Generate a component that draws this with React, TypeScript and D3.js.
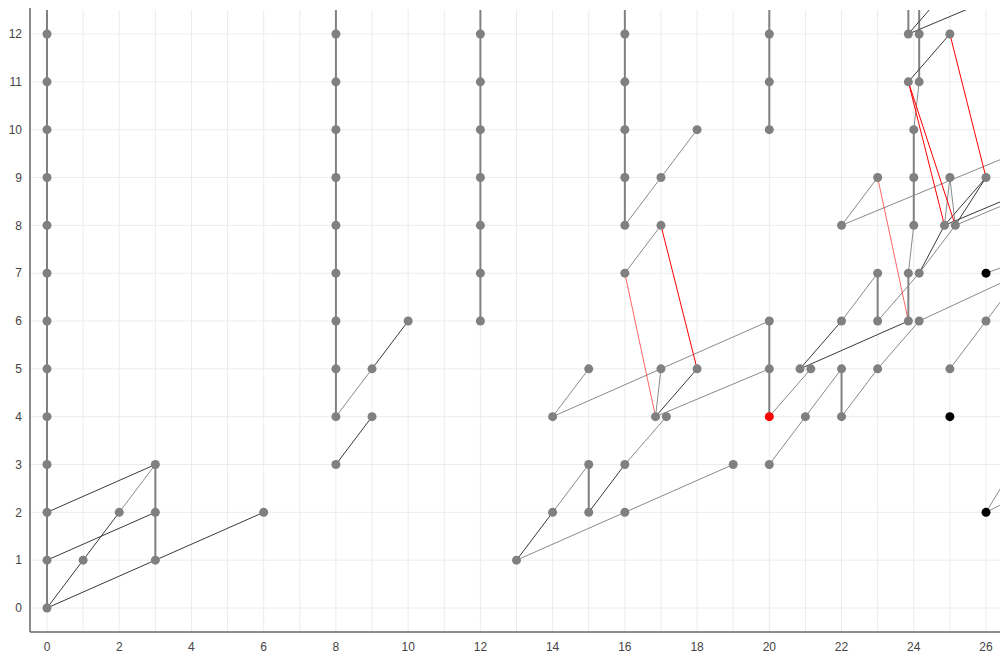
import React from "react";
import * as d3 from "d3";

// ---- data ----
const xTicks = [0, 2, 4, 6, 8, 10, 12, 14, 16, 18, 20, 22, 24, 26];
const yTicks = [0, 1, 2, 3, 4, 5, 6, 7, 8, 9, 10, 11, 12];
const xGrid = [0, 1, 2, 3, 4, 5, 6, 7, 8, 9, 10, 11, 12, 13, 14, 15, 16, 17, 18, 19, 20, 21, 22, 23, 24, 25, 26];

// nodes: [x, y, status]
const nodes: [number, number, string][] = [
  [0, 0, "n"], [0, 1, "n"], [0, 2, "n"], [0, 3, "n"], [0, 4, "n"], [0, 5, "n"], [0, 6, "n"],
  [0, 7, "n"], [0, 8, "n"], [0, 9, "n"], [0, 10, "n"], [0, 11, "n"], [0, 12, "n"],
  [1, 1, "n"], [2, 2, "n"], [3, 1, "n"], [3, 2, "n"], [3, 3, "n"], [6, 2, "n"],
  [8, 3, "n"], [8, 4, "n"], [8, 5, "n"], [8, 6, "n"], [8, 7, "n"], [8, 8, "n"], [8, 9, "n"],
  [8, 10, "n"], [8, 11, "n"], [8, 12, "n"],
  [9, 4, "n"], [9, 5, "n"], [10, 6, "n"],
  [12, 6, "n"], [12, 7, "n"], [12, 8, "n"], [12, 9, "n"], [12, 10, "n"], [12, 11, "n"], [12, 12, "n"],
  [13, 1, "n"], [14, 2, "n"], [15, 2, "n"], [15, 3, "n"], [16, 2, "n"], [16, 3, "n"], [19, 3, "n"],
  [14, 4, "n"], [15, 5, "n"], [16.85, 4, "n"], [17.15, 4, "n"], [17, 5, "n"], [18, 5, "n"],
  [20, 5, "n"], [20, 6, "n"], [20, 4, "flag"], [20, 3, "n"],
  [16, 7, "n"], [16, 8, "n"], [16, 9, "n"], [16, 10, "n"], [16, 11, "n"], [16, 12, "n"],
  [17, 8, "n"], [17, 9, "n"], [18, 10, "n"],
  [20, 10, "n"], [20, 11, "n"], [20, 12, "n"],
  [21, 4, "n"], [20.85, 5, "n"], [21.15, 5, "n"], [22, 4, "n"], [22, 5, "n"], [23, 5, "n"],
  [22, 6, "n"], [23, 6, "n"], [23, 7, "n"], [22, 8, "n"], [23, 9, "n"],
  [23.85, 6, "n"], [24.15, 6, "n"], [23.85, 7, "n"], [24.15, 7, "n"], [24, 8, "n"], [24, 9, "n"],
  [24, 10, "n"], [24.85, 8, "n"], [25.15, 8, "n"], [25, 9, "n"], [26, 9, "n"],
  [23.85, 11, "n"], [24.15, 11, "n"], [23.85, 12, "n"], [24.15, 12, "n"], [25, 12, "n"],
  [25, 4, "head"], [25, 5, "n"], [26, 6, "n"], [26, 7, "head"], [26, 2, "head"],
];

// vertical chains: [x, fromY, toY]
const chains: [number, number, number][] = [
  [0, 0, 13], [8, 4, 13], [12, 6, 13], [16, 8, 13], [20, 10, 13], [20, 4, 6],
  [3, 1, 3], [15, 2, 3], [22, 4, 5], [23, 6, 7], [23.85, 6, 7], [24, 8, 10],
  [24.15, 11, 13], [23.85, 12, 13],
];

// edges: [x1, y1, x2, y2, kind]  kind: strong | weak | conflict | conflictSoft
const edges: [number, number, number, number, string][] = [
  [0, 0, 1, 1, "strong"], [1, 1, 2, 2, "strong"], [2, 2, 3, 3, "weak"],
  [0, 2, 3, 3, "strong"], [0, 1, 3, 2, "strong"], [0, 0, 3, 1, "strong"], [3, 1, 6, 2, "strong"],
  [8, 3, 9, 4, "strong"], [8, 4, 9, 5, "weak"], [9, 5, 10, 6, "strong"],
  [13, 1, 14, 2, "strong"], [14, 2, 15, 3, "weak"], [15, 2, 16, 3, "strong"],
  [16, 3, 17.15, 4, "weak"], [13, 1, 16, 2, "weak"], [16, 2, 19, 3, "weak"],
  [14, 4, 15, 5, "weak"], [14, 4, 20, 6, "weak"],
  [16.85, 4, 17, 5, "weak"], [16.85, 4, 18, 5, "strong"], [16.85, 4, 20, 5, "weak"],
  [16, 7, 16.85, 4, "conflictSoft"], [17, 8, 18, 5, "conflict"],
  [16, 7, 17, 8, "weak"], [16, 8, 17, 9, "weak"], [17, 9, 18, 10, "weak"],
  [20, 4, 21.15, 5, "weak"], [20, 3, 21, 4, "weak"], [21, 4, 22, 5, "weak"],
  [22, 4, 23, 5, "weak"], [23, 5, 24.15, 6, "weak"],
  [20.85, 5, 22, 6, "strong"], [20.85, 5, 23.85, 6, "strong"],
  [22, 6, 23, 7, "weak"], [23, 6, 24.15, 7, "weak"], [24.15, 7, 25.15, 8, "weak"],
  [24.15, 7, 24.85, 8, "strong"], [24.85, 8, 26, 9, "strong"], [25.15, 8, 26, 9, "strong"],
  [25, 9, 24.85, 8, "weak"], [25, 9, 25.15, 8, "weak"],
  [24.85, 8, 28, 9, "strong"], [25.15, 8, 28.3, 9, "weak"],
  [22, 8, 23, 9, "weak"], [22, 8, 28.4, 10, "weak"],
  [23, 9, 23.85, 6, "conflictSoft"],
  [23.85, 7, 24, 8, "weak"], [24, 10, 24.15, 11, "weak"],
  [23.85, 12, 25, 13, "strong"], [23.85, 12, 27, 13, "strong"],
  [23.85, 11, 25, 12, "strong"],
  [23.85, 11, 24.85, 8, "conflict"], [23.85, 11, 25.15, 8, "conflict"], [25, 12, 26, 9, "conflict"],
  [24.15, 6, 27, 7, "weak"], [25, 5, 26, 6, "weak"], [26, 6, 27, 7, "weak"],
  [26, 7, 29.7, 8, "weak"], [26, 2, 26.8, 3, "weak"], [26, 2, 28.6, 3, "weak"],
];

// ---- styles ----
const edgeStyle: Record<string, { stroke: string; width: number; opacity: number }> = {
  chain: { stroke: "#808080", width: 2, opacity: 1 },
  strong: { stroke: "#3a3a3a", width: 1, opacity: 1 },
  weak: { stroke: "#8a8a8a", width: 1, opacity: 1 },
  conflict: { stroke: "#ff0000", width: 1, opacity: 1 },
  conflictSoft: { stroke: "#ff0000", width: 1, opacity: 0.6 },
};
const nodeFill: Record<string, string> = { n: "#808080", flag: "#ff0000", head: "#000000" };

const W = 1000;
const H = 654;
const plotLeft = 30;
const plotTop = 10;
const plotBottom = 632;

export default function App() {
  const x = d3.scaleLinear().domain([0, 26]).range([47, 986]);
  const y = d3.scaleLinear().domain([0, 12]).range([608, 34]);

  const segs: { x1: number; y1: number; x2: number; y2: number; kind: string }[] = [];
  chains.forEach(([cx, a, b]) => {
    for (let v = a; v < b; v++) segs.push({ x1: cx, y1: v, x2: cx, y2: v + 1, kind: "chain" });
  });
  edges.forEach(([x1, y1, x2, y2, kind]) => segs.push({ x1, y1, x2, y2, kind }));

  return (
    <svg
      width={W}
      height={H}
      style={{ position: "absolute", left: 0, top: 0, background: "#fff" }}
      fontFamily="'Liberation Sans', Arial, sans-serif"
    >
      <defs>
        <clipPath id="plotClip">
          <rect x={plotLeft} y={plotTop} width={W - plotLeft} height={plotBottom - plotTop} />
        </clipPath>
      </defs>
      <g>
        {xGrid.map((t) => (
          <line key={"gx" + t} x1={x(t)} x2={x(t)} y1={plotTop} y2={plotBottom} stroke="#ececec" strokeWidth={1} />
        ))}
        {yTicks.map((t) => (
          <line key={"gy" + t} x1={plotLeft} x2={W} y1={y(t)} y2={y(t)} stroke="#ececec" strokeWidth={1} />
        ))}
      </g>
      <g clipPath="url(#plotClip)">
        {segs.map((s, i) => {
          const st = edgeStyle[s.kind];
          return (
            <line
              key={"e" + i}
              x1={x(s.x1)}
              y1={y(s.y1)}
              x2={x(s.x2)}
              y2={y(s.y2)}
              stroke={st.stroke}
              strokeWidth={st.width}
              strokeOpacity={st.opacity}
            />
          );
        })}
        {nodes.map(([nx, ny, st], i) => (
          <circle key={"n" + i} cx={x(nx)} cy={y(ny)} r={4.5} fill={nodeFill[st]} />
        ))}
      </g>
      <line x1={plotLeft} x2={plotLeft} y1={plotTop - 2} y2={plotBottom} stroke="#666" strokeWidth={1.5} />
      <line x1={plotLeft} x2={W} y1={plotBottom} y2={plotBottom} stroke="#666" strokeWidth={1.5} />
      {xTicks.map((t) => (
        <text key={"tx" + t} x={x(t)} y={651} textAnchor="middle" fontSize={12} fill="#444">
          {t}
        </text>
      ))}
      {yTicks.map((t) => (
        <text key={"ty" + t} x={22} y={y(t)} dy="0.35em" textAnchor="end" fontSize={12} fill="#444">
          {t}
        </text>
      ))}
    </svg>
  );
}
